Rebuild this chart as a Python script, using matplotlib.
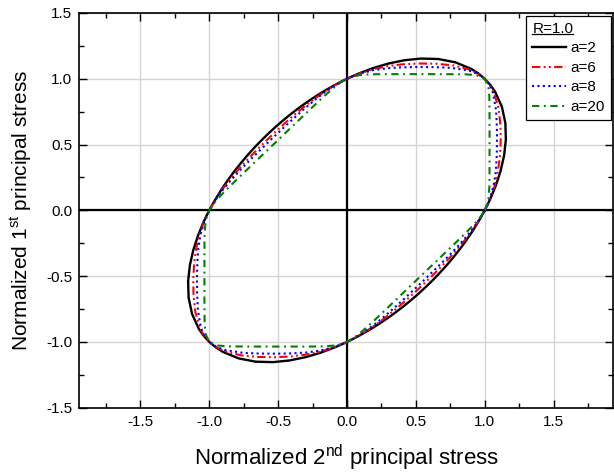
import numpy as np
import matplotlib
matplotlib.use("Agg")
import matplotlib.pyplot as plt
from matplotlib.lines import Line2D
from matplotlib.ticker import MultipleLocator, FormatStrFormatter

plt.rcParams['font.family'] = ['Liberation Sans', 'DejaVu Sans']
plt.rcParams['mathtext.fontset'] = 'custom'
plt.rcParams['mathtext.rm'] = 'Liberation Sans'
plt.rcParams['mathtext.it'] = 'Liberation Sans:italic'
plt.rcParams['axes.unicode_minus'] = False

# Polar angle (deg) in the (sigma2, sigma1) plane
angle_deg = [0, 2.5, 5, 10, 15, 20, 25, 30, 35, 40, 42.5, 45, 47.5, 50, 55, 60, 65, 70, 75, 80, 85,
             87.5, 90, 92.5, 95, 100, 105, 110, 115, 120, 125, 130, 135, 140, 145, 150, 155, 160,
             165, 170, 175, 177.5,
             180, 182.5, 185, 190, 195, 200, 205, 210, 215, 220, 222.5, 225, 227.5, 230, 235, 240,
             245, 250, 255, 260, 265, 267.5, 270, 272.5, 275, 280, 285, 290, 295, 300, 305, 310,
             315, 320, 325, 330, 335, 340, 345, 350, 355, 357.5, 360]

# Normalized radius of each yield locus at those angles
r_a2 = [1.000, 1.0225, 1.0465, 1.0983, 1.1547, 1.2139, 1.2731, 1.3280, 1.3734, 1.4036, 1.4115,
        1.4142, 1.4115, 1.4036, 1.3734, 1.3280, 1.2731, 1.2139, 1.1547, 1.0983, 1.0465, 1.0225,
        1.000, 0.9789, 0.9592, 0.9241, 0.8944, 0.8699, 0.8503, 0.8354, 0.8248, 0.8186, 0.8165,
        0.8186, 0.8248, 0.8354, 0.8503, 0.8699, 0.8944, 0.9241, 0.9592, 0.9789,
        1.000, 1.0225, 1.0465, 1.0983, 1.1547, 1.2139, 1.2731, 1.3280, 1.3734, 1.4036, 1.4115,
        1.4142, 1.4115, 1.4036, 1.3734, 1.3280, 1.2731, 1.2139, 1.1547, 1.0983, 1.0465, 1.0225,
        1.000, 0.9789, 0.9592, 0.9241, 0.8944, 0.8699, 0.8503, 0.8354, 0.8248, 0.8186, 0.8165,
        0.8186, 0.8248, 0.8354, 0.8503, 0.8699, 0.8944, 0.9241, 0.9592, 0.9789, 1.000]

r_a6 = [1.000, 1.0220, 1.0444, 1.0893, 1.1346, 1.1814, 1.2317, 1.2871, 1.3450, 1.3940, 1.4089,
        1.4142, 1.4089, 1.3940, 1.3450, 1.2871, 1.2317, 1.1814, 1.1346, 1.0893, 1.0444, 1.0220,
        1.000, 0.9785, 0.9575, 0.9186, 0.8841, 0.8549, 0.8311, 0.8129, 0.7999, 0.7922, 0.7896,
        0.7922, 0.7999, 0.8129, 0.8311, 0.8549, 0.8841, 0.9186, 0.9575, 0.9785,
        1.000, 1.0220, 1.0444, 1.0893, 1.1346, 1.1814, 1.2317, 1.2871, 1.3450, 1.3940, 1.4089,
        1.4142, 1.4089, 1.3940, 1.3450, 1.2871, 1.2317, 1.1814, 1.1346, 1.0893, 1.0444, 1.0220,
        1.000, 0.9785, 0.9575, 0.9186, 0.8841, 0.8549, 0.8311, 0.8129, 0.7999, 0.7922, 0.7896,
        0.7922, 0.7999, 0.8129, 0.8311, 0.8549, 0.8841, 0.9186, 0.9575, 0.9785, 1.000]

r_a8 = [1.000, 1.0215, 1.0423, 1.0811, 1.1179, 1.1566, 1.2019, 1.2571, 1.3219, 1.3850, 1.4063,
        1.4142, 1.4063, 1.3850, 1.3219, 1.2571, 1.2019, 1.1566, 1.1179, 1.0811, 1.0423, 1.0215,
        1.000, 0.9780, 0.9559, 0.9134, 0.8750, 0.8423, 0.8159, 0.7957, 0.7815, 0.7731, 0.7707,
        0.7731, 0.7815, 0.7957, 0.8159, 0.8423, 0.8750, 0.9134, 0.9559, 0.9780,
        1.000, 1.0215, 1.0423, 1.0811, 1.1179, 1.1566, 1.2019, 1.2571, 1.3219, 1.3850, 1.4063,
        1.4142, 1.4063, 1.3850, 1.3219, 1.2571, 1.2019, 1.1566, 1.1179, 1.0811, 1.0423, 1.0215,
        1.000, 0.9780, 0.9559, 0.9134, 0.8750, 0.8423, 0.8159, 0.7957, 0.7815, 0.7731, 0.7707,
        0.7731, 0.7815, 0.7957, 0.8159, 0.8423, 0.8750, 0.9134, 0.9559, 0.9780, 1.000]

r_a20 = [1.000, 1.0186, 1.0315, 1.0502, 1.0717, 1.1017, 1.1423, 1.1954, 1.2637, 1.3495, 1.3929,
         1.4142, 1.3929, 1.3495, 1.2637, 1.1954, 1.1423, 1.1017, 1.0717, 1.0502, 1.0315, 1.0186,
         1.000, 0.9755, 0.9474, 0.8920, 0.8449, 0.8077, 0.7790, 0.7579, 0.7433, 0.7349, 0.7320,
         0.7349, 0.7433, 0.7579, 0.7790, 0.8077, 0.8449, 0.8920, 0.9474, 0.9755,
         1.000, 1.0186, 1.0315, 1.0502, 1.0717, 1.1017, 1.1423, 1.1954, 1.2637, 1.3495, 1.3929,
         1.4142, 1.3929, 1.3495, 1.2637, 1.1954, 1.1423, 1.1017, 1.0717, 1.0502, 1.0315, 1.0186,
         1.000, 0.9755, 0.9474, 0.8920, 0.8449, 0.8077, 0.7790, 0.7579, 0.7433, 0.7349, 0.7320,
         0.7349, 0.7433, 0.7579, 0.7790, 0.8077, 0.8449, 0.8920, 0.9474, 0.9755, 1.000]

series_labels = ['a=2', 'a=6', 'a=8', 'a=20']
legend_title = 'R=1.0'

styles = [
    dict(color='black', lw=1.7, linestyle='-'),
    dict(color='#ff0000', lw=1.5, dashes=(4, 1.6, 0.9, 1.6, 0.9, 1.6)),
    dict(color='#0000ff', lw=1.5, dashes=(1.0, 1.6)),
    dict(color='#008000', lw=1.5, dashes=(3.5, 2.2, 0.9, 2.2)),
]

fig = plt.figure(figsize=(6.14, 4.76), dpi=100)
ax = fig.add_axes([79.3 / 614, 1 - 407.7 / 476, (613.3 - 79.3) / 614, (407.7 - 13.0) / 476])

theta = np.deg2rad(np.array(angle_deg))
for r, lab, st in zip([r_a2, r_a6, r_a8, r_a20], series_labels, styles):
    r = np.array(r)
    ax.plot(r * np.cos(theta), r * np.sin(theta), label=lab, zorder=3, **st)

ax.axhline(0, color='black', lw=1.6, zorder=2)
ax.axvline(0, color='black', lw=1.6, zorder=2)

ax.set_xlim(-1.944, 1.934)
ax.set_ylim(-1.5, 1.5)
ax.xaxis.set_major_locator(MultipleLocator(0.5))
ax.xaxis.set_minor_locator(MultipleLocator(0.25))
ax.yaxis.set_major_locator(MultipleLocator(0.5))
ax.yaxis.set_minor_locator(MultipleLocator(0.25))
ax.xaxis.set_major_formatter(FormatStrFormatter('%.1f'))
ax.yaxis.set_major_formatter(FormatStrFormatter('%.1f'))
ax.tick_params(which='both', direction='in', top=True, right=True, labelsize=11, width=1.0)
ax.tick_params(which='major', length=6, pad=5)
ax.tick_params(which='minor', length=3.5)
ax.grid(True, which='major', color='#d4d4d4', lw=1.0, zorder=0)
ax.set_axisbelow(True)
for sp in ax.spines.values():
    sp.set_linewidth(1.2)

ax.set_xlabel('Normalized 2$^{\\mathrm{nd}}$ principal stress', fontsize=16, labelpad=10)
ax.set_ylabel('Normalized 1$^{\\mathrm{st}}$ principal stress', fontsize=15, labelpad=9)

leg = ax.legend(title=legend_title, loc='upper right', fontsize=11, title_fontsize=11,
                frameon=True, fancybox=False, framealpha=1, edgecolor='black',
                borderaxespad=0.18, borderpad=0.4, handlelength=2.2, handletextpad=0.26,
                labelspacing=0.36, alignment='left')
leg.get_frame().set_linewidth(0.9)
leg.set_zorder(5)

# underline the legend title
fig.canvas.draw()
renderer = fig.canvas.get_renderer()
bb = leg.get_title().get_window_extent(renderer)
inv = fig.transFigure.inverted()
(x0, y0), (x1, _) = inv.transform([(bb.x0, bb.y0 + 1.5), (bb.x1, bb.y0 + 1.5)])
fig.add_artist(Line2D([x0, x1], [y0, y0], color='black', lw=0.9, zorder=6))

fig.savefig('out.png', dpi=100)
